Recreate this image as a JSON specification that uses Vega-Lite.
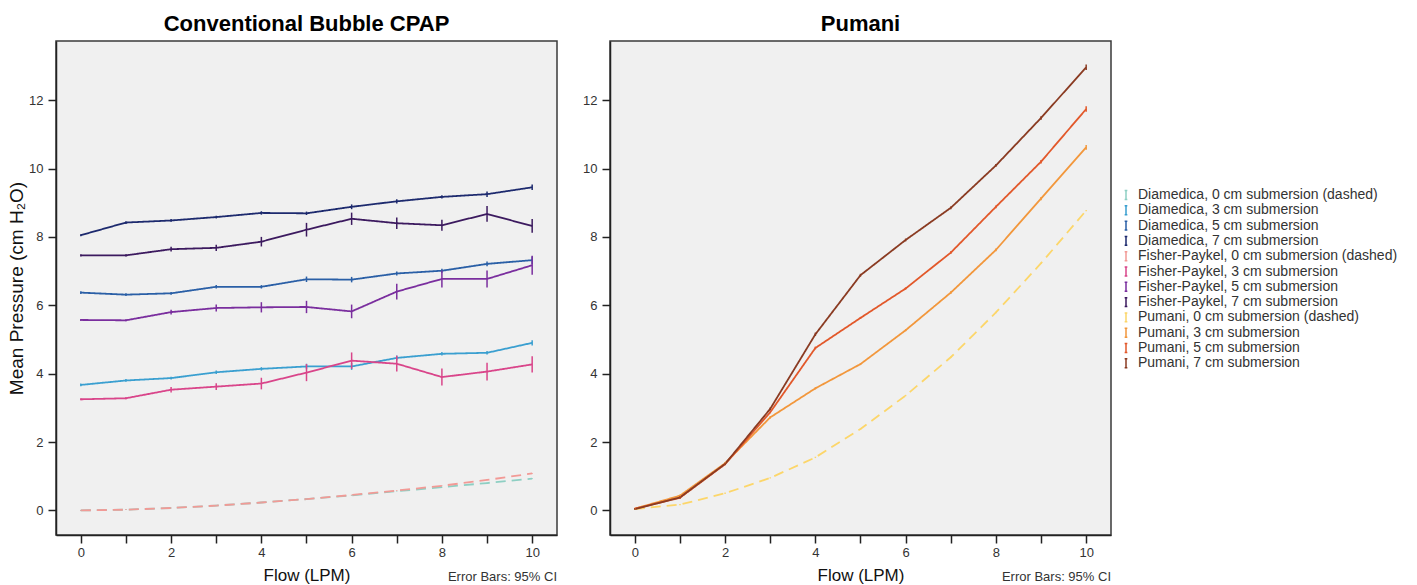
{
  "$schema": "https://vega.github.io/schema/vega-lite/v6.json",
  "background": "white",
  "padding": {"left": 6, "top": 12, "right": 5, "bottom": 2},
  "bounds": "flush",
  "spacing": 53,
  "config": {
    "font": "Liberation Sans",
    "view": {"fill": "#f0f0f0", "stroke": "#3a3a3a", "strokeWidth": 1.5},
    "axis": {
      "grid": false,
      "domainColor": "#222222",
      "domainWidth": 1.5,
      "tickColor": "#222222",
      "tickWidth": 1.5,
      "tickSize": 8,
      "labelFont": "Liberation Sans",
      "labelFontSize": 13,
      "labelColor": "#333333",
      "labelOverlap": false,
      "labelFlush": false,
      "titleFont": "Liberation Sans",
      "titleFontWeight": "normal",
      "titleColor": "#111111"
    },
    "title": {"font": "Liberation Sans", "fontSize": 22, "fontWeight": "bold", "color": "#000000", "offset": 5, "frame": "group"}
  },
  "data": {"values": [
    {"p":"C","s":"Diamedica, 0 cm submersion (dashed)","f":0,"m":0.00,"lo":-0.01,"hi":0.01},
    {"p":"C","s":"Diamedica, 0 cm submersion (dashed)","f":1,"m":0.02,"lo":0.01,"hi":0.03},
    {"p":"C","s":"Diamedica, 0 cm submersion (dashed)","f":2,"m":0.07,"lo":0.06,"hi":0.08},
    {"p":"C","s":"Diamedica, 0 cm submersion (dashed)","f":3,"m":0.14,"lo":0.13,"hi":0.15},
    {"p":"C","s":"Diamedica, 0 cm submersion (dashed)","f":4,"m":0.23,"lo":0.22,"hi":0.24},
    {"p":"C","s":"Diamedica, 0 cm submersion (dashed)","f":5,"m":0.33,"lo":0.32,"hi":0.34},
    {"p":"C","s":"Diamedica, 0 cm submersion (dashed)","f":6,"m":0.44,"lo":0.43,"hi":0.45},
    {"p":"C","s":"Diamedica, 0 cm submersion (dashed)","f":7,"m":0.56,"lo":0.55,"hi":0.57},
    {"p":"C","s":"Diamedica, 0 cm submersion (dashed)","f":8,"m":0.68,"lo":0.67,"hi":0.69},
    {"p":"C","s":"Diamedica, 0 cm submersion (dashed)","f":9,"m":0.80,"lo":0.79,"hi":0.81},
    {"p":"C","s":"Diamedica, 0 cm submersion (dashed)","f":10,"m":0.93,"lo":0.92,"hi":0.94},
    {"p":"C","s":"Diamedica, 3 cm submersion","f":0,"m":3.67,"lo":3.63,"hi":3.71},
    {"p":"C","s":"Diamedica, 3 cm submersion","f":1,"m":3.80,"lo":3.76,"hi":3.84},
    {"p":"C","s":"Diamedica, 3 cm submersion","f":2,"m":3.87,"lo":3.83,"hi":3.91},
    {"p":"C","s":"Diamedica, 3 cm submersion","f":3,"m":4.04,"lo":3.99,"hi":4.09},
    {"p":"C","s":"Diamedica, 3 cm submersion","f":4,"m":4.14,"lo":4.09,"hi":4.19},
    {"p":"C","s":"Diamedica, 3 cm submersion","f":5,"m":4.21,"lo":4.13,"hi":4.29},
    {"p":"C","s":"Diamedica, 3 cm submersion","f":6,"m":4.21,"lo":4.11,"hi":4.31},
    {"p":"C","s":"Diamedica, 3 cm submersion","f":7,"m":4.46,"lo":4.39,"hi":4.53},
    {"p":"C","s":"Diamedica, 3 cm submersion","f":8,"m":4.58,"lo":4.53,"hi":4.63},
    {"p":"C","s":"Diamedica, 3 cm submersion","f":9,"m":4.61,"lo":4.56,"hi":4.66},
    {"p":"C","s":"Diamedica, 3 cm submersion","f":10,"m":4.90,"lo":4.82,"hi":4.98},
    {"p":"C","s":"Diamedica, 5 cm submersion","f":0,"m":6.37,"lo":6.33,"hi":6.41},
    {"p":"C","s":"Diamedica, 5 cm submersion","f":1,"m":6.31,"lo":6.27,"hi":6.35},
    {"p":"C","s":"Diamedica, 5 cm submersion","f":2,"m":6.35,"lo":6.31,"hi":6.39},
    {"p":"C","s":"Diamedica, 5 cm submersion","f":3,"m":6.54,"lo":6.49,"hi":6.59},
    {"p":"C","s":"Diamedica, 5 cm submersion","f":4,"m":6.54,"lo":6.49,"hi":6.59},
    {"p":"C","s":"Diamedica, 5 cm submersion","f":5,"m":6.76,"lo":6.68,"hi":6.84},
    {"p":"C","s":"Diamedica, 5 cm submersion","f":6,"m":6.75,"lo":6.67,"hi":6.83},
    {"p":"C","s":"Diamedica, 5 cm submersion","f":7,"m":6.93,"lo":6.87,"hi":6.99},
    {"p":"C","s":"Diamedica, 5 cm submersion","f":8,"m":7.01,"lo":6.95,"hi":7.07},
    {"p":"C","s":"Diamedica, 5 cm submersion","f":9,"m":7.21,"lo":7.14,"hi":7.28},
    {"p":"C","s":"Diamedica, 5 cm submersion","f":10,"m":7.32,"lo":7.21,"hi":7.43},
    {"p":"C","s":"Diamedica, 7 cm submersion","f":0,"m":8.05,"lo":8.02,"hi":8.08},
    {"p":"C","s":"Diamedica, 7 cm submersion","f":1,"m":8.42,"lo":8.38,"hi":8.46},
    {"p":"C","s":"Diamedica, 7 cm submersion","f":2,"m":8.48,"lo":8.44,"hi":8.52},
    {"p":"C","s":"Diamedica, 7 cm submersion","f":3,"m":8.58,"lo":8.54,"hi":8.62},
    {"p":"C","s":"Diamedica, 7 cm submersion","f":4,"m":8.70,"lo":8.65,"hi":8.75},
    {"p":"C","s":"Diamedica, 7 cm submersion","f":5,"m":8.69,"lo":8.64,"hi":8.74},
    {"p":"C","s":"Diamedica, 7 cm submersion","f":6,"m":8.88,"lo":8.81,"hi":8.95},
    {"p":"C","s":"Diamedica, 7 cm submersion","f":7,"m":9.04,"lo":8.98,"hi":9.10},
    {"p":"C","s":"Diamedica, 7 cm submersion","f":8,"m":9.17,"lo":9.12,"hi":9.22},
    {"p":"C","s":"Diamedica, 7 cm submersion","f":9,"m":9.25,"lo":9.17,"hi":9.33},
    {"p":"C","s":"Diamedica, 7 cm submersion","f":10,"m":9.45,"lo":9.37,"hi":9.53},
    {"p":"C","s":"Fisher-Paykel, 0 cm submersion (dashed)","f":0,"m":0.00,"lo":-0.01,"hi":0.01},
    {"p":"C","s":"Fisher-Paykel, 0 cm submersion (dashed)","f":1,"m":0.02,"lo":0.01,"hi":0.03},
    {"p":"C","s":"Fisher-Paykel, 0 cm submersion (dashed)","f":2,"m":0.07,"lo":0.06,"hi":0.08},
    {"p":"C","s":"Fisher-Paykel, 0 cm submersion (dashed)","f":3,"m":0.14,"lo":0.13,"hi":0.15},
    {"p":"C","s":"Fisher-Paykel, 0 cm submersion (dashed)","f":4,"m":0.23,"lo":0.22,"hi":0.24},
    {"p":"C","s":"Fisher-Paykel, 0 cm submersion (dashed)","f":5,"m":0.33,"lo":0.32,"hi":0.34},
    {"p":"C","s":"Fisher-Paykel, 0 cm submersion (dashed)","f":6,"m":0.45,"lo":0.44,"hi":0.46},
    {"p":"C","s":"Fisher-Paykel, 0 cm submersion (dashed)","f":7,"m":0.58,"lo":0.57,"hi":0.59},
    {"p":"C","s":"Fisher-Paykel, 0 cm submersion (dashed)","f":8,"m":0.72,"lo":0.71,"hi":0.73},
    {"p":"C","s":"Fisher-Paykel, 0 cm submersion (dashed)","f":9,"m":0.89,"lo":0.88,"hi":0.90},
    {"p":"C","s":"Fisher-Paykel, 0 cm submersion (dashed)","f":10,"m":1.08,"lo":1.07,"hi":1.09},
    {"p":"C","s":"Fisher-Paykel, 3 cm submersion","f":0,"m":3.25,"lo":3.22,"hi":3.28},
    {"p":"C","s":"Fisher-Paykel, 3 cm submersion","f":1,"m":3.28,"lo":3.25,"hi":3.31},
    {"p":"C","s":"Fisher-Paykel, 3 cm submersion","f":2,"m":3.53,"lo":3.45,"hi":3.61},
    {"p":"C","s":"Fisher-Paykel, 3 cm submersion","f":3,"m":3.62,"lo":3.52,"hi":3.72},
    {"p":"C","s":"Fisher-Paykel, 3 cm submersion","f":4,"m":3.71,"lo":3.54,"hi":3.88},
    {"p":"C","s":"Fisher-Paykel, 3 cm submersion","f":5,"m":4.03,"lo":3.78,"hi":4.28},
    {"p":"C","s":"Fisher-Paykel, 3 cm submersion","f":6,"m":4.38,"lo":4.14,"hi":4.62},
    {"p":"C","s":"Fisher-Paykel, 3 cm submersion","f":7,"m":4.29,"lo":4.06,"hi":4.52},
    {"p":"C","s":"Fisher-Paykel, 3 cm submersion","f":8,"m":3.90,"lo":3.65,"hi":4.15},
    {"p":"C","s":"Fisher-Paykel, 3 cm submersion","f":9,"m":4.06,"lo":3.80,"hi":4.32},
    {"p":"C","s":"Fisher-Paykel, 3 cm submersion","f":10,"m":4.27,"lo":4.03,"hi":4.51},
    {"p":"C","s":"Fisher-Paykel, 5 cm submersion","f":0,"m":5.57,"lo":5.54,"hi":5.60},
    {"p":"C","s":"Fisher-Paykel, 5 cm submersion","f":1,"m":5.56,"lo":5.53,"hi":5.59},
    {"p":"C","s":"Fisher-Paykel, 5 cm submersion","f":2,"m":5.80,"lo":5.73,"hi":5.87},
    {"p":"C","s":"Fisher-Paykel, 5 cm submersion","f":3,"m":5.92,"lo":5.82,"hi":6.02},
    {"p":"C","s":"Fisher-Paykel, 5 cm submersion","f":4,"m":5.94,"lo":5.79,"hi":6.09},
    {"p":"C","s":"Fisher-Paykel, 5 cm submersion","f":5,"m":5.95,"lo":5.77,"hi":6.13},
    {"p":"C","s":"Fisher-Paykel, 5 cm submersion","f":6,"m":5.82,"lo":5.62,"hi":6.02},
    {"p":"C","s":"Fisher-Paykel, 5 cm submersion","f":7,"m":6.40,"lo":6.17,"hi":6.63},
    {"p":"C","s":"Fisher-Paykel, 5 cm submersion","f":8,"m":6.77,"lo":6.52,"hi":7.02},
    {"p":"C","s":"Fisher-Paykel, 5 cm submersion","f":9,"m":6.77,"lo":6.52,"hi":7.02},
    {"p":"C","s":"Fisher-Paykel, 5 cm submersion","f":10,"m":7.17,"lo":6.89,"hi":7.45},
    {"p":"C","s":"Fisher-Paykel, 7 cm submersion","f":0,"m":7.46,"lo":7.43,"hi":7.49},
    {"p":"C","s":"Fisher-Paykel, 7 cm submersion","f":1,"m":7.46,"lo":7.43,"hi":7.49},
    {"p":"C","s":"Fisher-Paykel, 7 cm submersion","f":2,"m":7.64,"lo":7.57,"hi":7.71},
    {"p":"C","s":"Fisher-Paykel, 7 cm submersion","f":3,"m":7.68,"lo":7.59,"hi":7.77},
    {"p":"C","s":"Fisher-Paykel, 7 cm submersion","f":4,"m":7.86,"lo":7.72,"hi":8.00},
    {"p":"C","s":"Fisher-Paykel, 7 cm submersion","f":5,"m":8.21,"lo":8.01,"hi":8.41},
    {"p":"C","s":"Fisher-Paykel, 7 cm submersion","f":6,"m":8.53,"lo":8.35,"hi":8.71},
    {"p":"C","s":"Fisher-Paykel, 7 cm submersion","f":7,"m":8.40,"lo":8.23,"hi":8.57},
    {"p":"C","s":"Fisher-Paykel, 7 cm submersion","f":8,"m":8.34,"lo":8.18,"hi":8.50},
    {"p":"C","s":"Fisher-Paykel, 7 cm submersion","f":9,"m":8.67,"lo":8.44,"hi":8.90},
    {"p":"C","s":"Fisher-Paykel, 7 cm submersion","f":10,"m":8.32,"lo":8.12,"hi":8.52},
    {"p":"P","s":"Pumani, 0 cm submersion (dashed)","f":0,"m":0.04,"lo":0.02,"hi":0.06},
    {"p":"P","s":"Pumani, 0 cm submersion (dashed)","f":1,"m":0.17,"lo":0.15,"hi":0.19},
    {"p":"P","s":"Pumani, 0 cm submersion (dashed)","f":2,"m":0.50,"lo":0.48,"hi":0.52},
    {"p":"P","s":"Pumani, 0 cm submersion (dashed)","f":3,"m":0.95,"lo":0.93,"hi":0.97},
    {"p":"P","s":"Pumani, 0 cm submersion (dashed)","f":4,"m":1.55,"lo":1.53,"hi":1.57},
    {"p":"P","s":"Pumani, 0 cm submersion (dashed)","f":5,"m":2.38,"lo":2.36,"hi":2.40},
    {"p":"P","s":"Pumani, 0 cm submersion (dashed)","f":6,"m":3.36,"lo":3.34,"hi":3.38},
    {"p":"P","s":"Pumani, 0 cm submersion (dashed)","f":7,"m":4.48,"lo":4.46,"hi":4.50},
    {"p":"P","s":"Pumani, 0 cm submersion (dashed)","f":8,"m":5.79,"lo":5.77,"hi":5.81},
    {"p":"P","s":"Pumani, 0 cm submersion (dashed)","f":9,"m":7.23,"lo":7.21,"hi":7.25},
    {"p":"P","s":"Pumani, 0 cm submersion (dashed)","f":10,"m":8.77,"lo":8.75,"hi":8.79},
    {"p":"P","s":"Pumani, 3 cm submersion","f":0,"m":0.05,"lo":0.03,"hi":0.07},
    {"p":"P","s":"Pumani, 3 cm submersion","f":1,"m":0.43,"lo":0.40,"hi":0.46},
    {"p":"P","s":"Pumani, 3 cm submersion","f":2,"m":1.38,"lo":1.35,"hi":1.41},
    {"p":"P","s":"Pumani, 3 cm submersion","f":3,"m":2.72,"lo":2.69,"hi":2.75},
    {"p":"P","s":"Pumani, 3 cm submersion","f":4,"m":3.57,"lo":3.54,"hi":3.60},
    {"p":"P","s":"Pumani, 3 cm submersion","f":5,"m":4.28,"lo":4.25,"hi":4.31},
    {"p":"P","s":"Pumani, 3 cm submersion","f":6,"m":5.27,"lo":5.24,"hi":5.30},
    {"p":"P","s":"Pumani, 3 cm submersion","f":7,"m":6.37,"lo":6.33,"hi":6.41},
    {"p":"P","s":"Pumani, 3 cm submersion","f":8,"m":7.62,"lo":7.58,"hi":7.66},
    {"p":"P","s":"Pumani, 3 cm submersion","f":9,"m":9.12,"lo":9.07,"hi":9.17},
    {"p":"P","s":"Pumani, 3 cm submersion","f":10,"m":10.62,"lo":10.55,"hi":10.69},
    {"p":"P","s":"Pumani, 5 cm submersion","f":0,"m":0.05,"lo":0.03,"hi":0.07},
    {"p":"P","s":"Pumani, 5 cm submersion","f":1,"m":0.37,"lo":0.34,"hi":0.40},
    {"p":"P","s":"Pumani, 5 cm submersion","f":2,"m":1.35,"lo":1.32,"hi":1.38},
    {"p":"P","s":"Pumani, 5 cm submersion","f":3,"m":2.87,"lo":2.84,"hi":2.90},
    {"p":"P","s":"Pumani, 5 cm submersion","f":4,"m":4.75,"lo":4.71,"hi":4.79},
    {"p":"P","s":"Pumani, 5 cm submersion","f":5,"m":5.63,"lo":5.60,"hi":5.66},
    {"p":"P","s":"Pumani, 5 cm submersion","f":6,"m":6.49,"lo":6.46,"hi":6.52},
    {"p":"P","s":"Pumani, 5 cm submersion","f":7,"m":7.54,"lo":7.50,"hi":7.58},
    {"p":"P","s":"Pumani, 5 cm submersion","f":8,"m":8.88,"lo":8.84,"hi":8.92},
    {"p":"P","s":"Pumani, 5 cm submersion","f":9,"m":10.20,"lo":10.15,"hi":10.25},
    {"p":"P","s":"Pumani, 5 cm submersion","f":10,"m":11.74,"lo":11.66,"hi":11.82},
    {"p":"P","s":"Pumani, 7 cm submersion","f":0,"m":0.04,"lo":0.02,"hi":0.06},
    {"p":"P","s":"Pumani, 7 cm submersion","f":1,"m":0.38,"lo":0.35,"hi":0.41},
    {"p":"P","s":"Pumani, 7 cm submersion","f":2,"m":1.36,"lo":1.33,"hi":1.39},
    {"p":"P","s":"Pumani, 7 cm submersion","f":3,"m":2.97,"lo":2.93,"hi":3.01},
    {"p":"P","s":"Pumani, 7 cm submersion","f":4,"m":5.15,"lo":5.10,"hi":5.20},
    {"p":"P","s":"Pumani, 7 cm submersion","f":5,"m":6.88,"lo":6.84,"hi":6.92},
    {"p":"P","s":"Pumani, 7 cm submersion","f":6,"m":7.91,"lo":7.87,"hi":7.95},
    {"p":"P","s":"Pumani, 7 cm submersion","f":7,"m":8.85,"lo":8.81,"hi":8.89},
    {"p":"P","s":"Pumani, 7 cm submersion","f":8,"m":10.09,"lo":10.05,"hi":10.13},
    {"p":"P","s":"Pumani, 7 cm submersion","f":9,"m":11.48,"lo":11.43,"hi":11.53},
    {"p":"P","s":"Pumani, 7 cm submersion","f":10,"m":12.96,"lo":12.88,"hi":13.04}
  ]},
  "hconcat": [
    {
      "title": {"text": "Conventional Bubble CPAP"},
      "width": 501,
      "height": 494,
      "layer": [
        {
          "transform": [{"filter": "datum.p === 'C'"}],
          "mark": {"type": "line", "strokeWidth": 1.8},
          "encoding": {
            "x": {"field": "f", "type": "quantitative", "scale": {"domain": [-0.55, 10.55], "nice": false, "zero": false},
              "axis": {"values": [0,1,2,3,4,5,6,7,8,9,10], "title": "Flow (LPM)", "titleFontSize": 17, "titlePadding": 8, "labelPadding": 3,
                "labelExpr": "datum.value % 2 === 0 ? datum.label : ''",
                "encode": {"ticks": {"update": {"y2": {"signal": "datum.value % 2 === 0 ? 8 : 4"}}}}}},
            "y": {"field": "m", "type": "quantitative", "scale": {"domain": [-0.72, 13.73], "nice": false, "zero": false},
              "axis": {"values": [0,1,2,3,4,5,6,7,8,9,10,11,12,13], "title": "Mean Pressure (cm H₂O)", "titleFontSize": 19, "titlePadding": 2, "labelPadding": 5,
                "labelExpr": "datum.value % 2 === 0 ? datum.label : ''",
                "encode": {"ticks": {"update": {"x2": {"signal": "datum.value % 2 === 0 ? -8 : -4"}}}}}},
            "color": {"field": "s", "type": "nominal",
              "scale": {
                "domain": ["Diamedica, 0 cm submersion (dashed)","Diamedica, 3 cm submersion","Diamedica, 5 cm submersion","Diamedica, 7 cm submersion","Fisher-Paykel, 0 cm submersion (dashed)","Fisher-Paykel, 3 cm submersion","Fisher-Paykel, 5 cm submersion","Fisher-Paykel, 7 cm submersion","Pumani, 0 cm submersion (dashed)","Pumani, 3 cm submersion","Pumani, 5 cm submersion","Pumani, 7 cm submersion"],
                "range": ["#8ecfc3","#3a9fd0","#2a5fa6","#1d2a6e","#f29a96","#d9458a","#7a2e9e","#3c1a5f","#fcd66a","#f2973c","#e2582a","#8a3b22"]
              },
              "legend": {
                "orient": "none",
                "legendX": 1063,
                "legendY": 147,
                "title": null,
                "symbolType": "M-0.3,-1H0.3M0,-1V1M-0.3,1H0.3",
                "symbolSize": 80,
                "symbolStrokeWidth": 1.5,
                "symbolDash": [1, 0],
                "labelFont": "Liberation Sans",
                "labelFontSize": 14,
                "labelColor": "#333333",
                "labelOffset": 5,
                "labelLimit": 400,
                "rowPadding": -0.7
              }},
            "strokeDash": {"field": "s", "type": "nominal", "legend": null,
              "scale": {
                "domain": ["Diamedica, 0 cm submersion (dashed)","Diamedica, 3 cm submersion","Diamedica, 5 cm submersion","Diamedica, 7 cm submersion","Fisher-Paykel, 0 cm submersion (dashed)","Fisher-Paykel, 3 cm submersion","Fisher-Paykel, 5 cm submersion","Fisher-Paykel, 7 cm submersion","Pumani, 0 cm submersion (dashed)","Pumani, 3 cm submersion","Pumani, 5 cm submersion","Pumani, 7 cm submersion"],
                "range": [[10,6],[1,0],[1,0],[1,0],[10,6],[1,0],[1,0],[1,0],[10,6],[1,0],[1,0],[1,0]]
              }}
          }
        },
        {
          "transform": [{"filter": "datum.p === 'C'"}],
          "mark": {"type": "rule", "strokeWidth": 1.5},
          "encoding": {
            "x": {"field": "f", "type": "quantitative"},
            "y": {"field": "lo", "type": "quantitative"},
            "y2": {"field": "hi"},
            "color": {"field": "s", "type": "nominal"}
          }
        },
        {
          "data": {"values": [{"note": "Error Bars: 95% CI"}]},
          "mark": {"type": "text", "align": "right", "baseline": "alphabetic", "fontSize": 13, "color": "#333333", "font": "Liberation Sans"},
          "encoding": {
            "x": {"datum": 10.55, "type": "quantitative"},
            "y": {"datum": -2.08, "type": "quantitative"},
            "text": {"field": "note"}
          }
        }
      ]
    },
    {
      "title": {"text": "Pumani"},
      "width": 501,
      "height": 494,
      "layer": [
        {
          "transform": [{"filter": "datum.p === 'P'"}],
          "mark": {"type": "line", "strokeWidth": 1.8},
          "encoding": {
            "x": {"field": "f", "type": "quantitative", "scale": {"domain": [-0.55, 10.55], "nice": false, "zero": false},
              "axis": {"values": [0,1,2,3,4,5,6,7,8,9,10], "title": "Flow (LPM)", "titleFontSize": 17, "titlePadding": 8, "labelPadding": 3,
                "labelExpr": "datum.value % 2 === 0 ? datum.label : ''",
                "encode": {"ticks": {"update": {"y2": {"signal": "datum.value % 2 === 0 ? 8 : 4"}}}}}},
            "y": {"field": "m", "type": "quantitative", "scale": {"domain": [-0.72, 13.73], "nice": false, "zero": false},
              "axis": {"values": [0,1,2,3,4,5,6,7,8,9,10,11,12,13], "title": null, "labelPadding": 5,
                "labelExpr": "datum.value % 2 === 0 ? datum.label : ''",
                "encode": {"ticks": {"update": {"x2": {"signal": "datum.value % 2 === 0 ? -8 : -4"}}}}}},
            "color": {"field": "s", "type": "nominal"},
            "strokeDash": {"field": "s", "type": "nominal", "legend": null}
          }
        },
        {
          "transform": [{"filter": "datum.p === 'P'"}],
          "mark": {"type": "rule", "strokeWidth": 1.5},
          "encoding": {
            "x": {"field": "f", "type": "quantitative"},
            "y": {"field": "lo", "type": "quantitative"},
            "y2": {"field": "hi"},
            "color": {"field": "s", "type": "nominal"}
          }
        },
        {
          "data": {"values": [{"note": "Error Bars: 95% CI"}]},
          "mark": {"type": "text", "align": "right", "baseline": "alphabetic", "fontSize": 13, "color": "#333333", "font": "Liberation Sans"},
          "encoding": {
            "x": {"datum": 10.55, "type": "quantitative"},
            "y": {"datum": -2.08, "type": "quantitative"},
            "text": {"field": "note"}
          }
        }
      ]
    }
  ]
}
